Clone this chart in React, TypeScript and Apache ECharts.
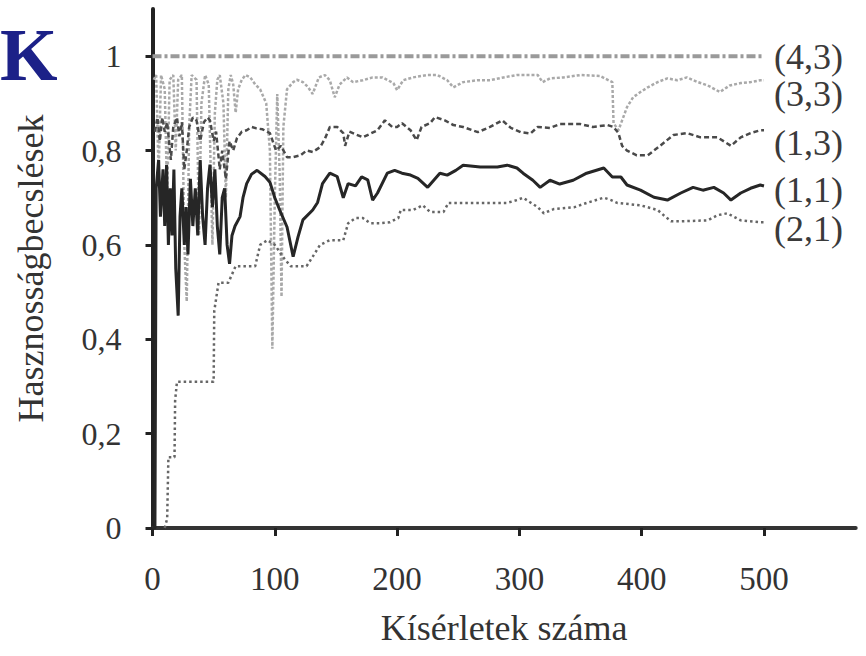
import React, { useEffect, useRef } from 'react';
import * as echarts from 'echarts';

// Axis ticks
const xTicks = [0, 100, 200, 300, 400, 500];
const yTicks = [0, 0.2, 0.4, 0.6, 0.8, 1];

// Series values: [trial number, utility estimate]
const s43: number[][] = [[0, 1], [500, 1]];

const s33: number[][] = [
  [1, 0.95], [3, 0.96], [5, 0.75], [7, 0.96], [10, 0.93], [12, 0.7], [14, 0.95], [17, 0.96], [19, 0.8],
  [21, 0.95], [24, 0.96], [26, 0.6], [28, 0.48], [30, 0.85], [32, 0.96], [36, 0.95], [38, 0.62], [40, 0.9],
  [43, 0.96], [46, 0.94], [49, 0.6], [51, 0.88], [53, 0.95], [55, 0.96], [58, 0.9], [60, 0.7], [62, 0.93],
  [64, 0.96], [66, 0.94], [68, 0.88], [70, 0.93], [73, 0.95], [76, 0.96], [80, 0.955], [84, 0.94],
  [88, 0.93], [93, 0.9], [96, 0.8], [98, 0.38], [100, 0.7], [102, 0.92], [104, 0.75], [105.5, 0.49],
  [107, 0.85], [110, 0.93], [115, 0.945], [118, 0.95], [123, 0.945], [127, 0.935], [131, 0.92],
  [136, 0.955], [141, 0.96], [145, 0.949], [149, 0.913], [153, 0.94], [159, 0.955], [164, 0.945],
  [172, 0.949], [180, 0.955], [188, 0.955], [197, 0.943], [200, 0.928], [205, 0.949], [213, 0.955],
  [224, 0.96], [233, 0.96], [241, 0.949], [246, 0.934], [254, 0.945], [266, 0.949], [276, 0.949],
  [287, 0.955], [298, 0.96], [315, 0.96], [319, 0.945], [325, 0.953], [336, 0.955], [350, 0.96],
  [366, 0.958], [376, 0.945], [377, 0.858], [381, 0.843], [384, 0.864], [388, 0.892], [393, 0.913],
  [399, 0.924], [405, 0.934], [413, 0.945], [421, 0.953], [429, 0.949], [437, 0.955], [446, 0.945],
  [454, 0.938], [464, 0.924], [472, 0.938], [481, 0.943], [489, 0.945], [497, 0.949], [500, 0.949],
];

const s21: number[][] = [
  [10, 0], [12, 0.02], [13, 0.15], [18, 0.15], [18.5, 0.27], [20, 0.31], [50, 0.31], [50.5, 0.46],
  [54, 0.52], [62, 0.52], [68, 0.555], [84, 0.555], [88, 0.6], [94, 0.61], [100, 0.6], [108, 0.57],
  [113, 0.555], [126, 0.555], [131, 0.575], [137, 0.6], [145, 0.61], [156, 0.61], [160, 0.646],
  [166, 0.657], [172, 0.657], [178, 0.646], [186, 0.646], [194, 0.648], [201, 0.657], [203, 0.674],
  [213, 0.674], [221, 0.684], [227, 0.67], [238, 0.67], [242, 0.689], [254, 0.689], [290, 0.689],
  [298, 0.695], [303, 0.7], [309, 0.69], [315, 0.68], [320, 0.667], [328, 0.676], [345, 0.68],
  [355, 0.689], [369, 0.7], [375, 0.695], [380, 0.689], [399, 0.684], [413, 0.674], [418, 0.663],
  [424, 0.65], [432, 0.65], [454, 0.652], [462, 0.663], [470, 0.667], [481, 0.652], [497, 0.648],
  [500, 0.648],
];

const s13: number[][] = [
  [2, 0.84], [4, 0.87], [6, 0.82], [8, 0.87], [10, 0.84], [12, 0.86], [15, 0.78], [17, 0.85], [20, 0.87],
  [22, 0.83], [24, 0.86], [26, 0.76], [28, 0.8], [30, 0.85], [33, 0.87], [36, 0.864], [39, 0.82],
  [42, 0.86], [45, 0.87], [47, 0.864], [50, 0.82], [52, 0.84], [55, 0.76], [57, 0.8], [60, 0.74],
  [63, 0.82], [66, 0.8], [69, 0.826], [73, 0.84], [77, 0.843], [81, 0.85], [85, 0.847], [90, 0.845],
  [96, 0.837], [101, 0.8], [105, 0.81], [110, 0.786], [115, 0.786], [121, 0.79], [126, 0.8],
  [131, 0.797], [137, 0.807], [141, 0.825], [145, 0.85], [151, 0.85], [156, 0.837], [157.5, 0.81],
  [161, 0.84], [172, 0.828], [184, 0.843], [190, 0.864], [196, 0.85], [200, 0.85], [204, 0.858],
  [211, 0.843], [216, 0.822], [220, 0.85], [227, 0.858], [231, 0.871], [239, 0.864], [246, 0.854],
  [254, 0.85], [266, 0.839], [276, 0.85], [286, 0.864], [293, 0.848], [301, 0.839], [309, 0.836],
  [315, 0.85], [325, 0.848], [333, 0.856], [350, 0.856], [360, 0.85], [372, 0.854], [377, 0.85],
  [381, 0.837], [384, 0.81], [388, 0.8], [396, 0.79], [405, 0.79], [415, 0.81], [426, 0.833],
  [437, 0.837], [448, 0.828], [462, 0.828], [473, 0.81], [481, 0.828], [489, 0.837], [497, 0.843],
  [500, 0.843],
];

const s11: number[][] = [
  [0, 0], [2, 0], [3, 0.72], [5, 0.78], [6.5, 0.66], [8.6, 0.76], [10, 0.64], [11.5, 0.77], [13, 0.6],
  [14.5, 0.72], [16, 0.62], [17.5, 0.76], [19, 0.55], [21, 0.45], [22.5, 0.66], [24, 0.72],
  [26, 0.6], [27.5, 0.68], [29, 0.58], [31, 0.74], [33, 0.64], [35, 0.72], [37, 0.62], [39, 0.78],
  [41, 0.66], [43, 0.6], [45, 0.72], [47, 0.77], [49, 0.68], [51, 0.76], [53, 0.64], [55, 0.58],
  [57, 0.7], [59, 0.72], [61, 0.6], [63, 0.56], [65, 0.62], [67.5, 0.64], [71.6, 0.66], [74, 0.7],
  [77, 0.73], [81, 0.75], [85.5, 0.758], [92, 0.745], [96, 0.733], [100, 0.7], [104, 0.674],
  [110, 0.638], [115, 0.575], [119, 0.617], [123, 0.653], [131, 0.674], [135, 0.69], [139, 0.73],
  [145, 0.752], [151, 0.745], [156, 0.7], [160, 0.73], [166, 0.725], [171, 0.744], [176, 0.738],
  [180, 0.695], [184, 0.71], [192, 0.752], [198, 0.758], [204, 0.752], [211, 0.748], [217, 0.741],
  [225, 0.722], [230, 0.737], [235, 0.752], [241, 0.748], [248, 0.758], [254, 0.769], [268, 0.765],
  [282, 0.765], [290, 0.769], [298, 0.763], [303, 0.752], [311, 0.737], [317, 0.722], [325, 0.737],
  [333, 0.729], [344, 0.737], [355, 0.752], [369, 0.763], [376, 0.744], [383, 0.744], [388, 0.727],
  [399, 0.716], [410, 0.701], [421, 0.695], [432, 0.71], [442, 0.722], [450, 0.716], [459, 0.722],
  [467, 0.71], [473, 0.695], [481, 0.71], [489, 0.72], [497, 0.727], [500, 0.725],
];

const FONT = '"Liberation Serif", "DejaVu Serif", serif';

function fmtY(v: number): string {
  return String(Math.round(v * 10) / 10).replace('.', ',');
}

export default function App() {
  const ref = useRef<HTMLDivElement>(null);

  useEffect(() => {
    document.body.style.margin = '0';
    if (!ref.current) return;
    const chart = echarts.init(ref.current, null, { renderer: 'svg' });

    const mk = (
      name: string,
      data: number[][],
      color: string,
      width: number,
      type: any,
      dy: number,
      z: number
    ) => ({
      name,
      type: 'line',
      data,
      symbol: 'none',
      silent: true,
      z,
      lineStyle: { color, width, type, cap: 'butt' },
      endLabel: {
        show: true,
        formatter: name,
        distance: 10,
        offset: [0, dy],
        fontFamily: FONT,
        fontSize: 36,
        lineHeight: 36,
        color: '#3a3a3a',
      },
    });

    chart.setOption({
      animation: false,
      backgroundColor: '#ffffff',
      grid: { left: 152.5, right: 10.3, top: 9, bottom: 128, containLabel: false },
      graphic: [
        {
          type: 'text',
          left: 0,
          top: 18,
          style: {
            text: 'K',
            font: 'bold 74px "Liberation Serif", serif',
            fill: '#1c2188',
          },
        },
      ],
      xAxis: {
        type: 'value',
        min: 0,
        max: 575,
        name: 'Kísérletek száma',
        nameLocation: 'middle',
        nameGap: 82,
        nameTextStyle: { fontFamily: FONT, fontSize: 36, color: '#333' },
        splitLine: { show: false },
        axisLine: { show: true, onZero: false, lineStyle: { color: '#333', width: 4 } },
        axisTick: {
          show: true,
          length: 8,
          inside: false,
          customValues: xTicks,
          lineStyle: { color: '#222', width: 3 },
        },
        axisLabel: {
          customValues: xTicks,
          margin: 34,
          fontFamily: FONT,
          fontSize: 33,
          color: '#333',
        },
      },
      yAxis: {
        type: 'value',
        min: 0,
        max: 1.1,
        name: 'Hasznosságbecslések',
        nameLocation: 'middle',
        nameRotate: 90,
        nameGap: 104,
        nameTextStyle: { fontFamily: FONT, fontSize: 36, color: '#333' },
        splitLine: { show: false },
        axisLine: { show: true, onZero: false, lineStyle: { color: '#222', width: 4 } },
        axisTick: {
          show: true,
          length: 7,
          inside: false,
          customValues: yTicks,
          lineStyle: { color: '#222', width: 3 },
        },
        axisLabel: {
          customValues: yTicks,
          margin: 31,
          fontFamily: FONT,
          fontSize: 32,
          color: '#333',
          formatter: (v: number) => fmtY(v),
        },
      },
      series: [
        mk('(4,3)', s43, '#9a9a9a', 4, [9, 3, 3, 3], 1, 2),
        mk('(3,3)', s33, '#a9a9a9', 2.5, [3, 2], 14, 3),
        mk('(2,1)', s21, '#666666', 2.5, [2.5, 3], 7, 4),
        mk('(1,3)', s13, '#4a4a4a', 2.5, [5, 3], 13, 5),
        mk('(1,1)', s11, '#262626', 3, 'solid', 4, 6),
      ],
    });

    return () => chart.dispose();
  }, []);

  return <div ref={ref} style={{ width: 866, height: 656 }} />;
}
